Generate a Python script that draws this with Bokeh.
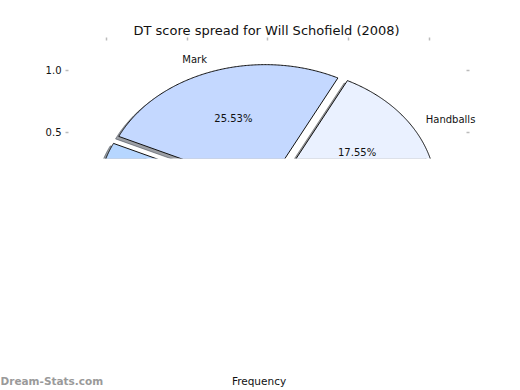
import numpy as np
from bokeh.plotting import figure
from bokeh.models import Range1d, LinearAxis, FixedTicker, Label, PrintfTickFormatter
from bokeh.embed import file_html
from bokeh.resources import INLINE

# ---- data ----
labels = ["Handballs", "Mark", "Kick", "Tackle", "Goal", "Free"]
percents = [17.55, 25.53, 19.68, 21.28, 7.45, 8.51]
colors = ["#EAF1FF", "#C4D8FF", "#B6D6FF", "#A9CBF4", "#9DC2EF", "#D6E4FA"]
explode = [0.05, 0.05, 0.05, 0.05, 0.05, 0.05]
x_ticks = [-1.0, -0.5, 0.0, 0.5, 1.0]
y_ticks = [0.5, 1.0]
title_text = "DT score spread for Will Schofield (2008)"
x_label = "Frequency"
watermark = "Dream-Stats.com"

FONT = "DejaVu Sans"
AX_X0, AX_X1 = -1.235, 1.235      # axes box (ticks drawn on its edges)
X_VIEW1 = 1.4427                  # view extends a bit right so labels are not clipped
Y0, Y1 = 0.2903, 1.2419

# ---- geometry from data ----
fr = np.array(percents) / sum(percents)
ends = np.cumsum(fr) * 2 * np.pi
starts = ends - fr * 2 * np.pi
mids = (starts + ends) / 2

xs, ys, sxs, sys_, scol = [], [], [], [], []
for s, e, m, ex, c in zip(starts, ends, mids, explode, colors):
    cx, cy = ex * np.cos(m), ex * np.sin(m)
    t = np.linspace(s, e, max(int(np.degrees(e - s)) * 2, 4))
    px = np.concatenate([[cx], cx + np.cos(t)])
    py = np.concatenate([[cy], cy + np.sin(t)])
    xs.append(px.tolist()); ys.append(py.tolist())
    sxs.append((px - 0.02).tolist()); sys_.append((py - 0.02).tolist())
    r, g, b = (int(c[i:i + 2], 16) for i in (1, 3, 5))
    scol.append("#%02x%02x%02x" % (int(0.3 * r), int(0.3 * g), int(0.3 * b)))

p = figure(
    x_range=Range1d(AX_X0, X_VIEW1), y_range=Range1d(Y0, Y1),
    width=520, height=360,
    min_border_left=68, min_border_right=20, min_border_top=40, min_border_bottom=202,
    output_backend="svg", toolbar_location=None,
    x_axis_location="above", y_axis_location="left",
)
p.outline_line_color = None
p.grid.visible = False

p.title.text = title_text
p.title.align = "left"
p.title.offset = 65
p.title.text_font = FONT
p.title.text_font_size = "13px"
p.title.text_font_style = "normal"
p.title.text_color = "#111111"
try:
    p.title.standoff = 0
except AttributeError:
    pass

right_axis = LinearAxis(fixed_location=AX_X1)
p.add_layout(right_axis, "right")

for ax in p.xaxis:
    ax.ticker = FixedTicker(ticks=x_ticks)
    ax.major_label_overrides = {t: "" for t in x_ticks}
    ax.major_label_standoff = 0
    ax.major_label_text_font_size = "4px"
for ax in p.yaxis:
    ax.ticker = FixedTicker(ticks=y_ticks)
    ax.formatter = PrintfTickFormatter(format="%.1f")
right_axis.major_label_overrides = {t: "" for t in y_ticks}
right_axis.major_label_standoff = 0
right_axis.major_label_text_font_size = "4px"

for ax in list(p.xaxis) + list(p.yaxis):
    ax.axis_line_color = None
    ax.minor_tick_line_color = None
    ax.major_tick_in = 0
    ax.major_tick_out = 3
    ax.major_tick_line_color = "#bbbbbb"
    ax.major_tick_line_width = 1.5
    ax.major_label_text_font = FONT
    ax.major_label_text_color = "#111111"
p.yaxis[0].major_label_text_font_size = "10px"
p.yaxis[0].major_label_standoff = 4

# shadows then wedges (clipped by the plot frame)
p.patches(xs=sxs, ys=sys_, fill_color=scol, line_color=scol, fill_alpha=0.5, line_alpha=0.5, line_width=1)
p.patches(xs=xs, ys=ys, fill_color=colors, line_color="#111111", line_width=1)

# wedge labels (only those inside the visible y-range)
for lab, pct, m, ex in zip(labels, percents, mids, explode):
    lx, ly = (ex + 1.1) * np.cos(m), (ex + 1.1) * np.sin(m)
    if Y0 <= ly <= Y1:
        p.add_layout(Label(x=lx, y=ly, text=lab, text_align="left" if lx > 0 else "right",
                           text_baseline="middle", text_font=FONT, text_font_size="10px",
                           text_color="#111111"))
    qx, qy = (ex + 0.6) * np.cos(m), (ex + 0.6) * np.sin(m)
    if Y0 <= qy <= Y1:
        p.add_layout(Label(x=qx, y=qy, text="%.2f%%" % pct, text_align="center",
                           text_baseline="middle", text_font=FONT, text_font_size="10px",
                           text_color="#111111"))

# bottom strip: axis title and watermark (separate root, full-width frame)
q = figure(width=520, height=30, x_range=Range1d(0, 520), y_range=Range1d(0, 30),
           min_border=0, output_backend="svg", toolbar_location=None,
           x_axis_location=None, y_axis_location=None)
q.outline_line_color = None
q.grid.visible = False
q.add_layout(Label(x=258.5, y=10, x_units="screen", y_units="screen", text=x_label,
                   text_align="center", text_baseline="middle", text_font=FONT,
                   text_font_size="10.5px", text_color="#111111"))
q.add_layout(Label(x=0, y=10, x_units="screen", y_units="screen", text=watermark,
                   text_align="left", text_baseline="middle", text_font=FONT,
                   text_font_size="10.5px", text_font_style="bold", text_color="#9a9a9a"))

open("out.html", "w").write(file_html([p, q], INLINE))
